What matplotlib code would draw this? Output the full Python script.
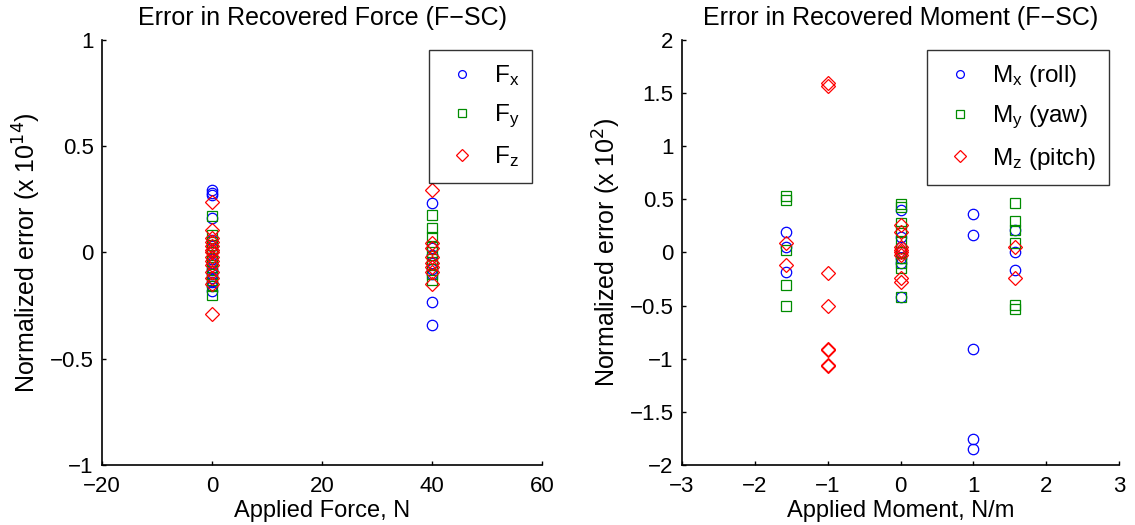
import matplotlib
matplotlib.use("Agg")
import matplotlib.pyplot as plt
import numpy as np

plt.rcParams['font.family'] = ['Liberation Sans', 'DejaVu Sans']

# ---- Left panel: force errors (x 1e14) ----
fx_x = [0]*15 + [40]*8
fx_y = [0.295, 0.28, 0.27, 0.16, 0.06, 0.03, 0.0, -0.03, -0.05, -0.08, -0.10, -0.12, -0.14, -0.16, -0.18,
        0.233, 0.02, -0.01, -0.05, -0.08, -0.10, -0.233, -0.34]
fy_x = [0]*11 + [40]*9
fy_y = [0.17, 0.08, 0.05, 0.02, -0.01, -0.04, -0.07, -0.10, -0.13, -0.16, -0.20,
        0.177, 0.114, 0.075, 0.03, 0.0, -0.03, -0.06, -0.10, -0.13]
fz_x = [0]*14 + [40]*8
fz_y = [0.24, 0.106, 0.07, 0.05, 0.03, 0.01, 0.0, -0.02, -0.04, -0.06, -0.09, -0.12, -0.15, -0.29,
        0.295, 0.043, 0.02, -0.02, -0.05, -0.07, -0.09, -0.146]

# ---- Right panel: moment errors (x 1e2) ----
hp = 1.5708
mx_x = [-hp]*3 + [0]*7 + [1]*5 + [hp]*3
mx_y = [0.197, 0.055, -0.18,
        0.40, 0.15, 0.05, 0.0, -0.05, -0.10, -0.42,
        0.364, 0.166, -0.906, -1.757, -1.852,
        0.213, 0.0, -0.166]
my_x = [-hp]*5 + [0]*10 + [hp]*6
my_y = [0.53, 0.49, 0.024, -0.31, -0.506,
        0.459, 0.43, 0.276, 0.2, 0.1, 0.0, -0.05, -0.1, -0.15, -0.418,
        0.465, 0.30, 0.213, 0.087, -0.497, -0.528]
mz_x = [-hp]*2 + [-1]*8 + [0]*8 + [hp]*2
mz_y = [0.087, -0.118,
        1.60, 1.57, -0.197, -0.50, -0.906, -0.92, -1.055, -1.07,
        0.26, 0.197, 0.05, 0.02, 0.0, -0.02, -0.244, -0.276,
        0.049, -0.244]

BLUE = (0, 0, 1)
GREEN = (0, 0.55, 0)
RED = (1, 0, 0)

fig = plt.figure(figsize=(11.35, 5.25), dpi=100)
ax1 = fig.add_axes([0.0899, 0.1143, 0.3877, 0.8095])
ax2 = fig.add_axes([0.6009, 0.1143, 0.3850, 0.8095])

mk = dict(linestyle='none', markerfacecolor='none', markersize=7.5, markeredgewidth=0.9)

ax1.plot(fx_x, fx_y, marker='o', color=BLUE, label=r'$\mathregular{F_x}$', **mk)
ax1.plot(fy_x, fy_y, marker='s', color=GREEN, label=r'$\mathregular{F_y}$', **mk)
ax1.plot(fz_x, fz_y, marker='D', color=RED, label=r'$\mathregular{F_z}$', **mk)
ax1.set_xlim(-20, 60)
ax1.set_ylim(-1, 1)
ax1.set_xticks([-20, 0, 20, 40, 60])
ax1.set_yticks([-1, -0.5, 0, 0.5, 1])
ax1.set_yticklabels(['\u22121', '\u22120.5', '0', '0.5', '1'])
ax1.set_xlabel('Applied Force, N', fontsize=17, labelpad=2)
ax1.set_ylabel(r'Normalized error (x 10$^{14}$)', fontsize=18, labelpad=5)
ax1.set_title('Error in Recovered Force (F\u2212SC)', fontsize=18, pad=11)

ax2.plot(mx_x, mx_y, marker='o', color=BLUE, label=r'$\mathregular{M_x}$ (roll)', **mk)
ax2.plot(my_x, my_y, marker='s', color=GREEN, label=r'$\mathregular{M_y}$ (yaw)', **mk)
ax2.plot(mz_x, mz_y, marker='D', color=RED, label=r'$\mathregular{M_z}$ (pitch)', **mk)
ax2.set_xlim(-3, 3)
ax2.set_ylim(-2, 2)
ax2.set_xticks([-3, -2, -1, 0, 1, 2, 3])
ax2.set_yticks(np.arange(-2, 2.01, 0.5))
ax2.set_yticklabels(['\u22122', '\u22121.5', '\u22121', '\u22120.5', '0', '0.5', '1', '1.5', '2'])
ax2.set_xlabel('Applied Moment, N/m', fontsize=17, labelpad=2)
ax2.set_ylabel(r'Normalized error (x 10$^{2}$)', fontsize=18, labelpad=5)
ax2.set_title('Error in Recovered Moment (F\u2212SC)', fontsize=18, pad=11)

for ax in (ax1, ax2):
    ax.spines['top'].set_visible(False)
    ax.spines['right'].set_visible(False)
    for s in ('left', 'bottom'):
        ax.spines[s].set_linewidth(1.2)
    ax.tick_params(axis='both', direction='in', labelsize=16, length=3, width=1.0)
    ax.tick_params(axis='x', pad=8)
    ax.tick_params(axis='y', pad=6)
    leg = ax.legend(loc='upper right', fontsize=17.5, frameon=True, fancybox=False,
                    edgecolor='black', handlelength=1.6, borderpad=0.55, labelspacing=0.6,
                    markerscale=0.75, handletextpad=0.5, borderaxespad=0.4)
    leg.get_frame().set_linewidth(1.0)

fig.savefig('out.png', dpi=100)
